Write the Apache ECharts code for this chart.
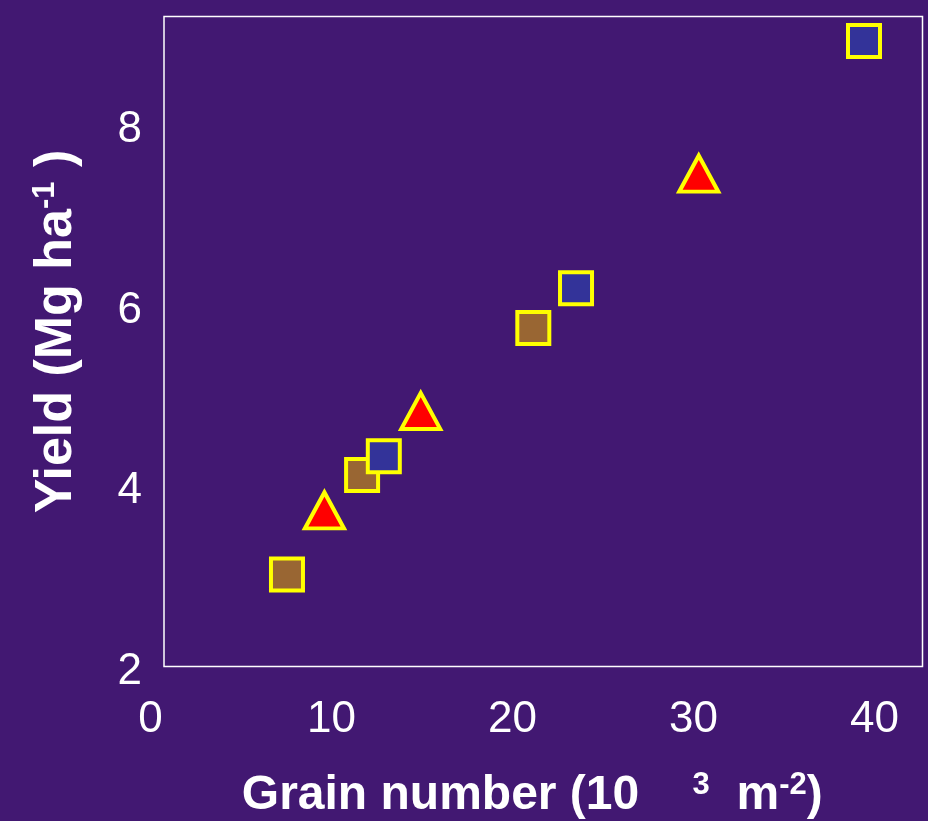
<!DOCTYPE html>
<html>
<head>
<meta charset="utf-8">
<script src="https://cdn.jsdelivr.net/npm/echarts@6/dist/echarts.min.js"></script>
<style>
html,body{margin:0;padding:0;background:#421872;}
#chart{width:928px;height:821px;}
</style>
</head>
<body>
<div id="chart"></div>
<script>
// Data (x: grain number 10^3 m^-2, y: yield Mg ha^-1)
const brownSquares = [[7.54, 3.02], [11.69, 4.12], [21.15, 5.75]];
const blueSquares  = [[12.89, 4.33], [23.51, 6.19], [39.42, 8.93]];
const redTriangles = [[9.61, 3.73], [14.93, 4.83], [30.29, 7.46]];
const xTickLabels = [0, 10, 20, 30, 40];
const yTickLabels = [2, 4, 6, 8];

const chart = echarts.init(document.getElementById('chart'));
const fontFam = '"Liberation Sans", Arial, sans-serif';
const supStyle = {fontSize: 31, fontWeight: 'bold', color: '#fff', fontFamily: fontFam, verticalAlign: 'top', padding: [0, 0, 22, 0]};
const noParts = {axisLine: {show: false}, axisTick: {show: false}, splitLine: {show: false}};
chart.setOption({
  backgroundColor: '#421872',
  animation: false,
  grid: [
    {left: 150.5, right: 53.5, top: 16.5, bottom: 154.5, show: false, containLabel: false, outerBoundsMode: 'none'},
    {left: 164, right: 5.5, top: 16.5, bottom: 154.5, show: true, borderColor: '#ffffff', borderWidth: 1.5, backgroundColor: 'transparent', containLabel: false, outerBoundsMode: 'none'}
  ],
  xAxis: [
    Object.assign({
      gridIndex: 0, type: 'value', min: xTickLabels[0], max: xTickLabels[xTickLabels.length - 1], interval: 10,
      axisLabel: {color: '#fff', fontSize: 44, fontFamily: fontFam, margin: 31, showMinLabel: true, showMaxLabel: true}
    }, noParts),
    Object.assign({
      gridIndex: 1, type: 'value', min: 0, max: 1,
      axisLabel: {show: false},
      name: 'Grain number (10    {sup|3}  m{sup|-2})',
      nameLocation: 'middle', nameGap: 103,
      nameTextStyle: {color: '#fff', fontSize: 48, fontWeight: 'bold', fontFamily: fontFam, padding: [0, 22, 0, 0], rich: {sup: supStyle}}
    }, noParts)
  ],
  yAxis: [
    Object.assign({
      gridIndex: 0, type: 'value', min: 2, max: 9.2, axisLabel: {show: false}
    }, noParts),
    Object.assign({
      gridIndex: 1, type: 'value', min: 2, max: 9.2, interval: 2,
      axisLabel: {color: '#fff', fontSize: 44, fontFamily: fontFam, margin: 22,
        formatter: v => (yTickLabels.indexOf(v) >= 0 ? '{n|' + v + '}' : ''),
        rich: {n: {color: '#fff', fontSize: 44, fontFamily: fontFam, padding: [10, 0, 0, 0]}}},
      name: 'Yield (Mg ha{sup|-1} )',
      nameLocation: 'middle', nameGap: 81,
      nameTextStyle: {color: '#fff', fontSize: 52, fontWeight: 'bold', fontFamily: fontFam, padding: [0, 0, 0, 20], rich: {sup: supStyle}}
    }, noParts)
  ],
  series: [
    {type: 'scatter', name: 'brown', xAxisIndex: 0, yAxisIndex: 0, data: brownSquares, symbol: 'rect', symbolSize: 32,
     itemStyle: {color: '#996633', borderColor: '#ffff00', borderWidth: 4, opacity: 1}},
    {type: 'scatter', name: 'blue', xAxisIndex: 0, yAxisIndex: 0, data: blueSquares, symbol: 'rect', symbolSize: 32,
     itemStyle: {color: '#333399', borderColor: '#ffff00', borderWidth: 4, opacity: 1}},
    {type: 'scatter', name: 'red', xAxisIndex: 0, yAxisIndex: 0, data: redTriangles, symbol: 'triangle', symbolSize: [39, 36],
     itemStyle: {color: '#ff0000', borderColor: '#ffff00', borderWidth: 4, opacity: 1}}
  ]
});
</script>
</body>
</html>
